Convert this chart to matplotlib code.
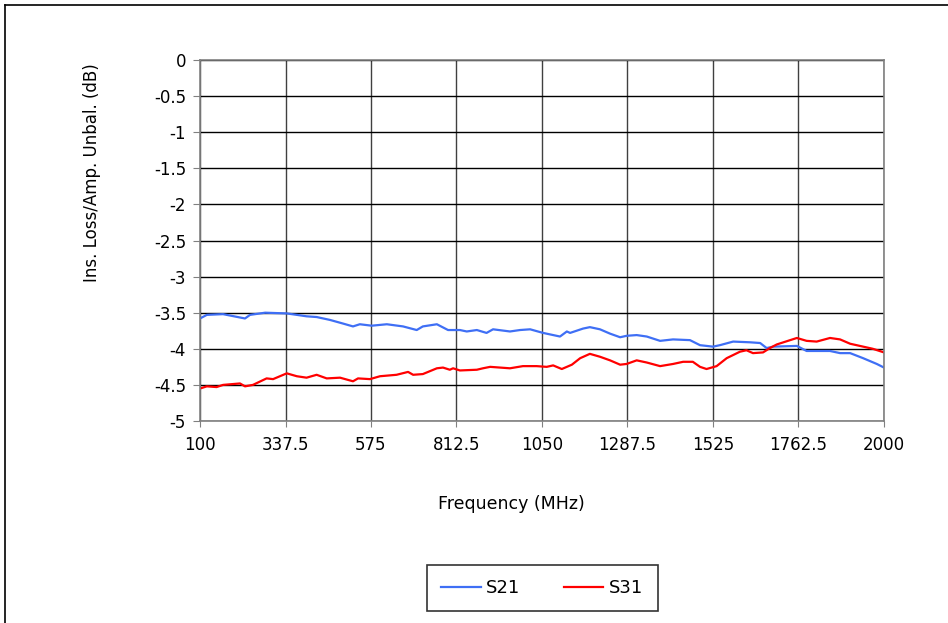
import numpy as np
import matplotlib.pyplot as plt
from matplotlib.lines import Line2D

# S21 trace (MHz, dB)
s21_freq = [100, 119, 164, 225, 239, 281, 341, 369, 396, 424, 461, 497, 525, 544, 577,
            619, 664, 702, 719, 758, 789, 822, 841, 869, 896, 914, 961, 989, 1017, 1053,
            1100, 1119, 1128, 1164, 1183, 1211, 1239, 1267, 1285, 1313, 1341, 1378, 1414,
            1461, 1489, 1525, 1544, 1581, 1628, 1656, 1674, 1692, 1758, 1785, 1850, 1878,
            1906, 1942, 1980, 2000]
s21_db = [-3.58, -3.53, -3.52, -3.58, -3.53, -3.50, -3.51, -3.53, -3.55, -3.56, -3.60,
          -3.65, -3.69, -3.66, -3.68, -3.66, -3.69, -3.74, -3.69, -3.66, -3.74, -3.74,
          -3.76, -3.74, -3.78, -3.73, -3.76, -3.74, -3.73, -3.78, -3.83, -3.76, -3.78,
          -3.72, -3.70, -3.73, -3.79, -3.84, -3.82, -3.81, -3.83, -3.89, -3.87, -3.88,
          -3.95, -3.97, -3.95, -3.90, -3.91, -3.92, -3.99, -3.97, -3.96, -4.03, -4.03,
          -4.06, -4.06, -4.13, -4.21, -4.26]

# S31 trace
s31_freq = [100, 119, 146, 164, 211, 225, 247, 285, 303, 341, 369, 396, 424, 452, 489,
            525, 539, 572, 600, 646, 678, 692, 719, 758, 775, 794, 803, 822, 869, 886,
            906, 961, 997, 1035, 1063, 1081, 1105, 1119, 1133, 1156, 1183, 1211, 1239,
            1267, 1285, 1313, 1341, 1378, 1414, 1442, 1469, 1489, 1507, 1535, 1563, 1600,
            1618, 1636, 1664, 1683, 1702, 1758, 1785, 1813, 1850, 1878, 1906, 1933, 1969,
            2000]
s31_db = [-4.55, -4.52, -4.53, -4.50, -4.48, -4.52, -4.50, -4.41, -4.42, -4.34, -4.38,
          -4.40, -4.36, -4.41, -4.40, -4.45, -4.41, -4.42, -4.38, -4.36, -4.32, -4.36,
          -4.35, -4.27, -4.26, -4.29, -4.27, -4.30, -4.29, -4.27, -4.25, -4.27, -4.24,
          -4.24, -4.25, -4.23, -4.28, -4.25, -4.22, -4.13, -4.07, -4.11, -4.16, -4.22,
          -4.21, -4.16, -4.19, -4.24, -4.21, -4.18, -4.18, -4.25, -4.28, -4.24, -4.13,
          -4.04, -4.02, -4.06, -4.05, -3.99, -3.94, -3.85, -3.89, -3.90, -3.85, -3.87,
          -3.93, -3.96, -4.00, -4.05]

x_ticks = [100, 337.5, 575, 812.5, 1050, 1287.5, 1525, 1762.5, 2000]
x_labels = ['100', '337.5', '575', '812.5', '1050', '1287.5', '1525', '1762.5', '2000']
y_ticks = [0, -0.5, -1, -1.5, -2, -2.5, -3, -3.5, -4, -4.5, -5]
y_labels = ['0', '-0.5', '-1', '-1.5', '-2', '-2.5', '-3', '-3.5', '-4', '-4.5', '-5']

plt.rcParams['font.family'] = ['DejaVu Sans']
W, H = 948, 623
fig = plt.figure(figsize=(W / 100, H / 100), dpi=100)
ax = fig.add_axes([200 / W, 1 - 421 / H, 684 / W, 361 / H])

blue = '#3F6FF5'
red = '#FF0000'
ax.plot(s21_freq, s21_db, color=blue, lw=1.6, label='S21')
ax.plot(s31_freq, s31_db, color=red, lw=1.6, label='S31')

ax.set_xlim(100, 2000)
ax.set_ylim(-5, 0)
ax.set_xticks(x_ticks)
ax.set_xticklabels(x_labels)
ax.set_yticks(y_ticks)
ax.set_yticklabels(y_labels)
ax.tick_params(labelsize=12, direction='out', length=5, color='#808080', pad=5)
ax.tick_params(axis='x', length=4, pad=7)
ax.grid(True, axis='y', color='black', lw=1)
ax.grid(True, axis='x', color='#404040', lw=1)
for s in ax.spines.values():
    s.set_color('#808080')
    s.set_linewidth(1.2)

fig.text(92 / W, 1 - 173 / H, 'Ins. Loss/Amp. Unbal. (dB)', rotation=90,
         ha='center', va='center', fontsize=12)
fig.text(511 / W, 1 - 504 / H, 'Frequency (MHz)', ha='center', va='center', fontsize=12.5)

# outer chart border
fig.add_artist(Line2D([5 / W, 5 / W], [0, 1 - 5 / H], color='black', lw=1.2))
fig.add_artist(Line2D([5 / W, 1], [1 - 5 / H, 1 - 5 / H], color='black', lw=1.2))

leg = fig.legend(loc='center', bbox_to_anchor=(542 / W, 1 - 588 / H), ncol=2,
                 fontsize=13, frameon=True, fancybox=False, handlelength=2.2,
                 handletextpad=0.3, columnspacing=2.4, borderpad=0.8,
                 borderaxespad=0)
leg.get_frame().set_edgecolor('black')
leg.get_frame().set_linewidth(1.2)

fig.savefig('out.png', dpi=100)
